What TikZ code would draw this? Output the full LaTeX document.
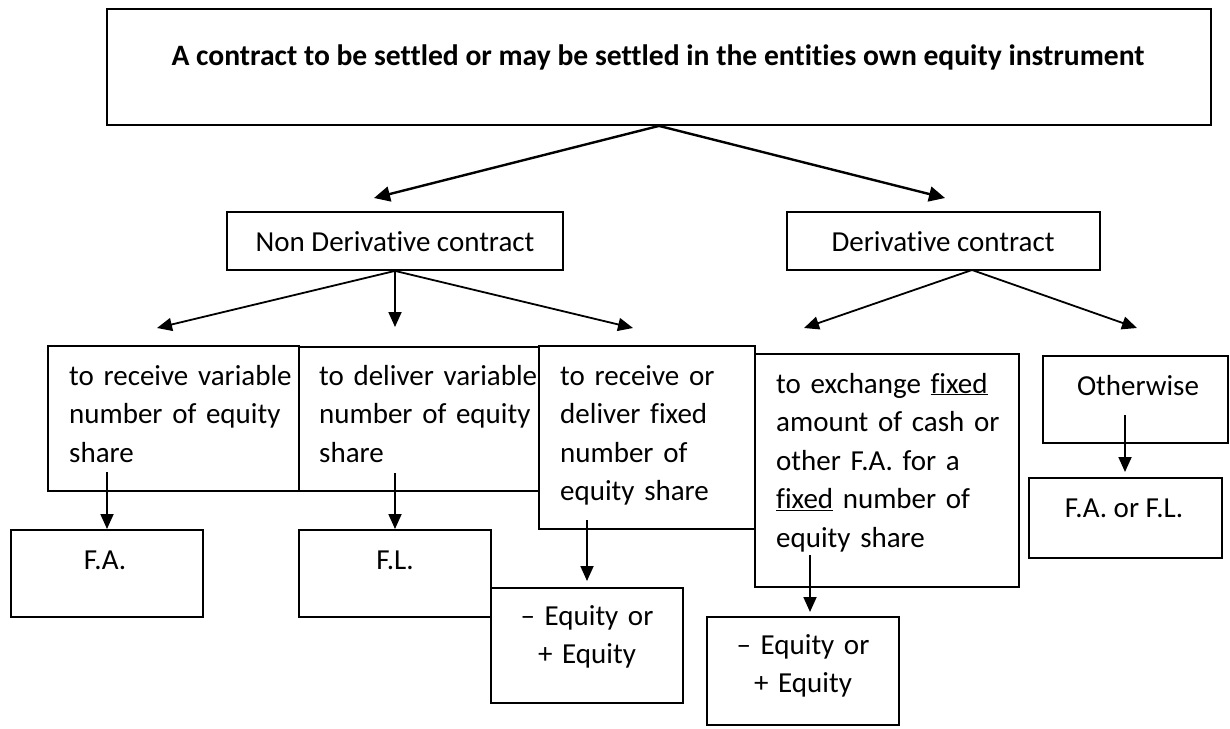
\documentclass[tikz,border=0pt]{standalone}
\usepackage{fontspec}
\setmainfont{Carlito}[Ligatures={NoCommon}]
\usetikzlibrary{arrows.meta,fit}
\begin{document}
\begin{tikzpicture}[x=1pt,y=-1pt,
  box/.style={draw, line width=1.8pt, inner sep=0pt},
  txt/.style={inner sep=0pt, font=\fontsize{29}{38.5}\selectfont},
  ltxt/.style={txt, anchor=base west, align=left, text width=#1},
  ctxt/.style={txt, anchor=base, align=center, text width=#1},
  arr/.style={line width=1.8pt, -{Triangle[length=15pt,width=13pt]}},
  bigarr/.style={line width=2.4pt, -{Triangle[length=16pt,width=15pt]}}]
\useasboundingbox (0,0) rectangle (1230,728);

% boxes, level by level
\node[box, fit={(107,9)(1211,125)}] (top) {};
\node[box, fit={(227,212)(563,270)}] (nd) {};
\node[box, fit={(787,212)(1100,270)}] (der) {};
\node[box, fit={(48,346)(299,491)}] (recv) {};
\node[box, fit={(299,347)(539,491)}] (deliv) {};
\node[box, fit={(539,346)(755,529)}] (fixd) {};
\node[box, fit={(755,354)(1019,587)}] (exch) {};
\node[box, fit={(1043,356)(1228,443)}] (other) {};
\node[box, fit={(1029,478)(1222,558)}] (fafl) {};
\node[box, fit={(11,530)(203,617)}] (fa) {};
\node[box, fit={(299,530)(491,617)}] (fl) {};
\node[box, fit={(491,588)(683,703)}] (eqa) {};
\node[box, fit={(707,617)(899,725)}] (eqb) {};

% texts
\node[txt, font=\fontsize{29.6}{38.5}\selectfont\bfseries, anchor=base] (toptxt) at (658,65)
  {A contract to be settled or may be settled in the entities own equity instrument};
\node[txt, anchor=base] (ndtxt) at (395,251) {Non Derivative contract};
\node[txt, anchor=base] (dertxt) at (943,251) {Derivative contract};
\node[ltxt=240] (recvtxt) at (69,385) {to receive variable\\number of equity\\share};
\node[ltxt=240] (delivtxt) at (319,385) {to deliver variable\\number of equity\\share};
\node[ltxt=200] (fixdtxt) at (560,385) {to receive or\\deliver fixed\\number of\\equity share};
\node[ltxt=260] (exchtxt) at (776,393)
  {to exchange \underline{fixed}\\amount of cash or\\other F.A. for a\\\underline{fixed} number of\\equity share};
\node[txt, anchor=base] (othertxt) at (1138,395) {Otherwise};
\node[txt, anchor=base] (fafltxt) at (1124,517) {F.A. or F.L.};
\node[txt, anchor=base] (fatxt) at (105,569) {F.A.};
\node[txt, anchor=base] (fltxt) at (395,569) {F.L.};
\node[ctxt=190] (eqatxt) at (587,625) {– Equity or\\+ Equity};
\node[ctxt=190] (eqbtxt) at (803,654) {– Equity or\\+ Equity};

% connector ends
\coordinate (dero) at (972,270);
\coordinate (t1) at (374,198);
\coordinate (t2) at (945,198);
\coordinate (n1) at (157,328);
\coordinate (n2) at (395,327);
\coordinate (n3) at (633,328);
\coordinate (d1) at (804,328);
\coordinate (d2) at (1137,328);
\coordinate (s1) at (107,472);  \coordinate (e1) at (107,529);
\coordinate (s2) at (395,473);  \coordinate (e2) at (395,529);
\coordinate (s3) at (587,520);  \coordinate (e3) at (587,581);
\coordinate (s4) at (810,555);  \coordinate (e4) at (810,612);
\coordinate (s5) at (1125,415); \coordinate (e5) at (1125,472);

% connectors
\draw[bigarr] (top.south) -- (t1);
\draw[bigarr] (top.south) -- (t2);
\draw[arr] (nd.south) -- (n1);
\draw[arr] (nd.south) -- (n2);
\draw[arr] (nd.south) -- (n3);
\draw[arr] (dero) -- (d1);
\draw[arr] (dero) -- (d2);
\draw[arr] (s1) -- (e1);
\draw[arr] (s2) -- (e2);
\draw[arr] (s3) -- (e3);
\draw[arr] (s4) -- (e4);
\draw[arr] (s5) -- (e5);
\end{tikzpicture}
\end{document}
